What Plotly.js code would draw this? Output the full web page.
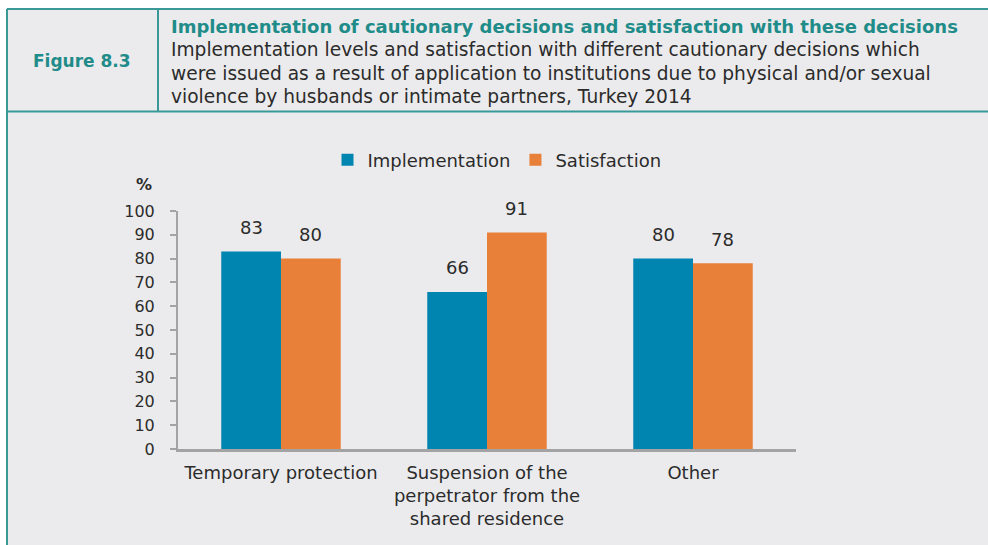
<!DOCTYPE html>
<html>
<head>
<meta charset="utf-8">
<script src="https://cdn.plot.ly/plotly-3.0.1.min.js"></script>
<style>
html,body{margin:0;padding:0;background:#fff;}
#chart{width:988px;height:545px;}
</style>
</head>
<body>
<div id="chart"></div>
<script>
const categories = ['Temporary protection', 'Suspension of the<br>perpetrator from the<br>shared residence', 'Other'];
const implementation = [83, 66, 80];
const satisfaction = [80, 91, 78];
const seriesNames = ['Implementation', 'Satisfaction'];
const yTickVals = [0, 10, 20, 30, 40, 50, 60, 70, 80, 90, 100];
const figureLabel = 'Figure 8.3';
const titleText = 'Implementation of cautionary decisions and satisfaction with these decisions';
const subtitleLines = [
  'Implementation levels and satisfaction with different cautionary decisions which',
  'were issued as a result of application to institutions due to physical and/or sexual',
  'violence by husbands or intimate partners, Turkey 2014'
];
const yUnit = '%';

const W = 988, H = 545;
const L = 178, R = 796, T = 211, B = 449;
const px2x = p => (p - L) / (R - L);
const px2y = p => (B - p) / (B - T);

const FONT = 'DejaVu Sans, sans-serif';
const TEAL = '#1f8c89';
const BORDER = '#3a9996';
const TXT = '#2b2b2b';
const BG = '#ebebed';
const AX = '#a3a3a3';
const BLUE = '#0084b0';
const ORANGE = '#e8803a';
const bargap = 0.42;

const traces = [
  {type: 'bar', name: seriesNames[0], x: categories, y: implementation, marker: {color: BLUE}, hoverinfo: 'y'},
  {type: 'bar', name: seriesNames[1], x: categories, y: satisfaction, marker: {color: ORANGE}, hoverinfo: 'y'}
];

const annotations = [];
// data labels
const barW = (1 - bargap) / 2;
[implementation, satisfaction].forEach((arr, s) => {
  arr.forEach((v, i) => {
    annotations.push({
      xref: 'x', yref: 'y', x: i + (s === 0 ? -barW / 2 : barW / 2), y: v,
      text: String(v), showarrow: false, yanchor: 'middle', yshift: 24,
      font: {family: FONT, size: 18, color: TXT}
    });
  });
});
// unit label
annotations.push({xref: 'paper', yref: 'paper', x: px2x(144), y: px2y(184), text: '<b>' + yUnit + '</b>',
  showarrow: false, xanchor: 'center', yanchor: 'middle', font: {family: FONT, size: 16, color: TXT}});
// header
annotations.push({xref: 'paper', yref: 'paper', x: px2x(82), y: px2y(61), text: '<b>' + figureLabel + '</b>',
  showarrow: false, xanchor: 'center', yanchor: 'middle', font: {family: FONT, size: 17, color: TEAL}});
annotations.push({xref: 'paper', yref: 'paper', x: px2x(169), y: px2y(26), text: '<b>' + titleText + '</b>',
  showarrow: false, xanchor: 'left', yanchor: 'middle', font: {family: FONT, size: 18, color: TEAL}});
subtitleLines.forEach((t, k) => {
  annotations.push({xref: 'paper', yref: 'paper', x: px2x(169), y: px2y(49 + 24 * k), text: t,
    showarrow: false, xanchor: 'left', yanchor: 'middle', font: {family: FONT, size: 18.6, color: TXT}});
});

const line = (x0, y0, x1, y1) => ({type: 'line', xref: 'paper', yref: 'paper', layer: 'below',
  x0: px2x(x0), y0: px2y(y0), x1: px2x(x1), y1: px2y(y1), line: {color: BORDER, width: 2}});
const shapes = [
  {type: 'rect', xref: 'paper', yref: 'paper', layer: 'below', x0: px2x(0), x1: px2x(W), y0: px2y(0), y1: px2y(9),
    fillcolor: '#ffffff', line: {width: 0}},
  {type: 'rect', xref: 'paper', yref: 'paper', layer: 'below', x0: px2x(0), x1: px2x(7), y0: px2y(0), y1: px2y(H),
    fillcolor: '#ffffff', line: {width: 0}},
  line(7, 9, W, 9),
  line(7, 9, 7, H),
  line(158, 9, 158, 111),
  line(7, 111.5, W, 111.5)
];

const layout = {
  width: W, height: H,
  margin: {l: L, r: W - R, t: T, b: H - B, pad: 0},
  paper_bgcolor: BG, plot_bgcolor: 'rgba(0,0,0,0)',
  barmode: 'group', bargap: bargap, bargroupgap: 0,
  font: {family: FONT, size: 16, color: TXT},
  showlegend: true,
  legend: {orientation: 'h', x: px2x(497), xanchor: 'center', y: px2y(160), yanchor: 'middle',
    font: {family: FONT, size: 18, color: TXT}, itemwidth: 30, bgcolor: 'rgba(0,0,0,0)', traceorder: 'normal'},
  xaxis: {type: 'category', showline: true, linecolor: AX, linewidth: 3, ticks: '', showgrid: false, zeroline: false,
    tickfont: {family: FONT, size: 18, color: TXT}, ticklabelstandoff: 5, fixedrange: true},
  yaxis: {range: [0, 100], tickvals: yTickVals, showline: true, linecolor: AX, linewidth: 2, ticks: 'outside',
    ticklen: 6, tickwidth: 2, tickcolor: AX, showgrid: false, zeroline: false,
    tickfont: {family: FONT, size: 16, color: TXT}, ticklabelstandoff: 12, fixedrange: true},
  annotations: annotations,
  shapes: shapes
};

Plotly.newPlot('chart', traces, layout, {displayModeBar: false, staticPlot: true});
</script>
</body>
</html>
